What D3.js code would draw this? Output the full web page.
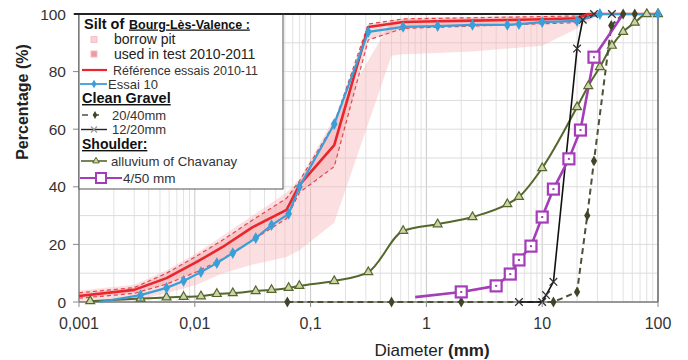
<!DOCTYPE html>
<html><head><meta charset="utf-8">
<script src="https://cdn.jsdelivr.net/npm/d3@7"></script>
<style>body{margin:0;background:#fff} svg{display:block;font-family:"Liberation Sans",Arial,sans-serif}</style>
</head><body><svg id="c" width="688" height="360"></svg>
<script>
// ---- data ----
const xTicks = [0.001, 0.01, 0.1, 1, 10, 100];
const xTickLabels = ["0,001", "0,01", "0,1", "1", "10", "100"];
const yTicks = [0, 20, 40, 60, 80, 100];

// Silt of Bourg-Lès-Valence : borrow pit envelope
const pitD  = [0.001, 0.003, 0.0057, 0.0104, 0.0174, 0.0316, 0.062, 0.08, 0.16, 0.5, 0.63, 1.25, 2.5, 5, 10, 20, 31.5];
const pitHi = [4, 6, 11, 17, 23, 30, 38, 42.5, 64, 97.5, 98.5, 99, 99, 99.3, 99.5, 99.7, 100];
const pitLo = [0, 0.5, 3, 6, 10, 13, 15.6, 18, 27.5, 85.5, 86, 86.5, 87, 88, 89, 95, 100];
// used in test 2010-2011 envelope
const usedD  = [0.001, 0.003, 0.0057, 0.0104, 0.0174, 0.0316, 0.062, 0.08, 0.16, 0.315, 0.63, 20, 31.5];
const usedHi = [3.2, 5, 10, 16, 21.5, 28.5, 36, 42, 62, 96.5, 98.3, 99.3, 100];
const usedLo = [1.3, 3, 6.2, 10.5, 15, 21.5, 29, 38, 47, 91, 95, 97, 100];
// Référence essais 2010-11
const refD = [0.001, 0.003, 0.0057, 0.0104, 0.0174, 0.0316, 0.062, 0.08, 0.16, 0.315, 0.63, 1.25, 2.5, 5, 10, 20, 25, 100];
const refP = [2.1, 4.2, 8.3, 13.9, 19.1, 26, 32, 40.6, 54.5, 95.5, 97.2, 97.5, 97.7, 97.9, 98.2, 98.5, 100, 100];
// Essai 10
const essD = [0.0015, 0.0034, 0.0057, 0.008, 0.0113, 0.0155, 0.0213, 0.0336, 0.046, 0.0646, 0.08, 0.16, 0.315, 0.63, 1.25, 2.5, 5, 6.3, 10, 20, 31.5, 100];
const essP = [0, 2.4, 4.9, 7.3, 10.4, 13.5, 17, 22.2, 26.7, 30.6, 40, 61.8, 93.8, 95.5, 95.8, 96.2, 96.2, 96.5, 97.2, 97.6, 100, 100];
// Clean Gravel 20/40mm
const g2040D = [0.063, 0.5, 2, 12.5, 20, 24.5, 28, 39.5, 50, 63];
const g2040P = [0, 0, 0, 0, 3.5, 30, 49, 96, 100, 100];
// Clean Gravel 12/20mm
const g1220D = [6.3, 10, 10.8, 12.5, 20, 22.4, 28, 40];
const g1220P = [0, 0, 2.4, 7, 88, 98, 100, 100];
// Shoulder: alluvium of Chavanay
const allD = [0.00125, 0.0034, 0.0057, 0.008, 0.0113, 0.0155, 0.0213, 0.0336, 0.046, 0.0646, 0.08, 0.16, 0.315, 0.63, 1.25, 2.5, 5, 6.3, 10, 20, 25, 31.5, 40, 50, 63, 80, 100];
const allP = [0.3, 1.2, 1.6, 1.8, 2, 2.8, 3.1, 3.8, 4.2, 4.9, 5.6, 7.3, 10.4, 24.7, 27, 29.5, 34, 36.5, 46.5, 67.7, 75, 81.6, 89, 93.8, 97, 100, 100];
// Shoulder: 4/50 mm
const p450D = [0.8, 2, 4, 5.3, 6.3, 8, 10, 12.5, 17, 21.4, 28, 50];
const p450P = [1.7, 3.5, 5.6, 9.7, 14.6, 19.4, 29.5, 39.2, 49.7, 59.7, 85, 100];

// ---- drawing ----
const svg = d3.select("#c");
const x = d3.scaleLog().domain([0.001, 100]).range([79, 658]);
const y = d3.scaleLinear().domain([0, 100]).range([302, 14]);
const zip = (a, b) => a.map((v, i) => [v, b[i]]);
const zip3 = (a, b, c) => a.map((v, i) => [v, b[i], c[i]]);

const C = {red: "#e8262b", blue: "#3a9fd8", green: "#55672c", purple: "#a53db8", dark: "#3e4628"};

// grid
const gridX = [];
for (let e = -3; e < 2; e++) for (let k = 1; k < 10; k++) gridX.push(k * Math.pow(10, e));
gridX.push(100);
svg.append("g").selectAll("line").data(gridX).join("line")
  .attr("x1", d => x(d)).attr("x2", d => x(d)).attr("y1", y(0)).attr("y2", y(100))
  .attr("stroke", d => xTicks.includes(+d.toPrecision(6)) ? "#c8c8c8" : "#e2e2e2").attr("stroke-width", 1);
svg.append("g").selectAll("line").data(d3.range(0, 101, 10)).join("line")
  .attr("x1", x(0.001)).attr("x2", x(100)).attr("y1", d => y(d)).attr("y2", d => y(d))
  .attr("stroke", "#dcdcdc").attr("stroke-width", 1);

// envelopes
const area = d3.area().x(d => x(d[0])).y0(d => y(d[1])).y1(d => y(d[2]));
svg.append("path").datum(zip3(pitD, pitLo, pitHi)).attr("d", area)
  .attr("fill", "#f7b5b8").attr("fill-opacity", 0.42);
svg.append("path").datum(zip3(usedD, usedLo, usedHi)).attr("d", area)
  .attr("fill", "#f08d96").attr("fill-opacity", 0.32);
const line = d3.line().x(d => x(d[0])).y(d => y(d[1]));
[usedHi, usedLo].forEach(arr => {
  svg.append("path").datum(zip(usedD, arr)).attr("d", line).attr("fill", "none")
    .attr("stroke", "#e0474f").attr("stroke-width", 1.2).attr("stroke-dasharray", "4,3");
});

// axes frame
svg.append("line").attr("x1", x(0.001)).attr("x2", x(100)).attr("y1", y(0)).attr("y2", y(0)).attr("stroke", "#7a7a7a").attr("stroke-width", 1.5);
svg.append("line").attr("x1", x(0.001)).attr("x2", x(0.001)).attr("y1", y(0)).attr("y2", y(100)).attr("stroke", "#7a7a7a").attr("stroke-width", 1.2);
svg.append("line").attr("x1", x(100)).attr("x2", x(100)).attr("y1", y(0)).attr("y2", y(100)).attr("stroke", "#6a6a6a").attr("stroke-width", 1.5);
svg.append("line").attr("x1", 74).attr("x2", x(100)).attr("y1", y(100)).attr("y2", y(100)).attr("stroke", "#222").attr("stroke-width", 2);

// curves
function curve(D, P, color, width, dash, curveType) {
  const l = d3.line().x(d => x(d[0])).y(d => y(d[1])).curve(curveType || d3.curveLinear);
  svg.append("path").datum(zip(D, P)).attr("d", l).attr("fill", "none")
    .attr("stroke", color).attr("stroke-width", width).attr("stroke-dasharray", dash || null)
    .attr("stroke-linejoin", "round");
}
curve(allD, allP, C.green, 2, null, d3.curveMonotoneX);
curve(g2040D, g2040P, "#4a5238", 2, "6,4");
curve(g1220D, g1220P, "#111", 1.6);
curve(p450D, p450P, C.purple, 2.6);
curve(refD, refP, C.red, 2.6);
curve(essD, essP, C.blue, 2.2);

// markers
const sym = (type, size) => d3.symbol().type(type).size(size)();
svg.append("g").selectAll("path").data(zip(allD, allP)).join("path")
  .attr("transform", d => `translate(${x(d[0])},${y(d[1])})`).attr("d", sym(d3.symbolTriangle, 34))
  .attr("fill", "#cdd5a8").attr("stroke", C.green).attr("stroke-width", 1.2);
svg.append("g").selectAll("path").data(zip(g2040D, g2040P)).join("path")
  .attr("transform", d => `translate(${x(d[0])},${y(d[1])})`).attr("d", sym(d3.symbolDiamond, 34))
  .attr("fill", C.dark);
const xMark = "M-3.8,-3.8L3.8,3.8M-3.8,3.8L3.8,-3.8";
svg.append("g").selectAll("path").data(zip(g1220D, g1220P)).join("path")
  .attr("transform", d => `translate(${x(d[0])},${y(d[1])})`).attr("d", xMark)
  .attr("fill", "none").attr("stroke", "#333").attr("stroke-width", 1.3);
const pMarks = zip(p450D, p450P).filter((d, i) => i > 0 && i < p450D.length - 1);
const pg = svg.append("g").selectAll("g").data(pMarks).join("g")
  .attr("transform", d => `translate(${x(d[0])},${y(d[1])})`);
pg.append("rect").attr("x", -5.5).attr("y", -5.5).attr("width", 11).attr("height", 11)
  .attr("fill", "#fff").attr("stroke", C.purple).attr("stroke-width", 2.2);
pg.append("rect").attr("x", -1).attr("y", -1).attr("width", 2).attr("height", 2).attr("fill", C.purple);
svg.append("g").selectAll("path").data(zip(essD, essP).filter((d, i) => i > 0)).join("path")
  .attr("transform", d => `translate(${x(d[0])},${y(d[1])})`).attr("d", sym(d3.symbolDiamond, 40))
  .attr("fill", C.blue);

// ticks
svg.append("g").selectAll("line").data(yTicks).join("line")
  .attr("x1", 73).attr("x2", x(0.001)).attr("y1", d => y(d)).attr("y2", d => y(d)).attr("stroke", "#888");
svg.append("g").selectAll("text").data(yTicks).join("text")
  .attr("x", 66).attr("y", d => y(d) + 5.5).attr("text-anchor", "end")
  .attr("font-size", 15.5).attr("fill", "#333").text(d => d);
svg.append("g").selectAll("line").data(xTicks).join("line")
  .attr("x1", d => x(d)).attr("x2", d => x(d)).attr("y1", y(0)).attr("y2", y(0) + 5).attr("stroke", "#888");
svg.append("g").selectAll("text").data(xTicks).join("text")
  .attr("x", d => x(d)).attr("y", 329).attr("text-anchor", "middle")
  .attr("font-size", 16).attr("fill", "#333").text((d, i) => xTickLabels[i]);

// axis titles
svg.append("text").attr("transform", "translate(28,102) rotate(-90)").attr("text-anchor", "middle")
  .attr("font-size", 16).attr("font-weight", "bold").attr("fill", "#222").text("Percentage (%)");
const xt = svg.append("text").attr("x", 432).attr("y", 356).attr("text-anchor", "middle")
  .attr("font-size", 17).attr("fill", "#222");
xt.append("tspan").text("Diameter ");
xt.append("tspan").attr("font-weight", "bold").text("(mm)");

// legend
const lg = svg.append("g");
lg.append("rect").attr("x", 79).attr("y", 14).attr("width", 204).attr("height", 175)
  .attr("fill", "#fff").attr("stroke", "#555").attr("stroke-width", 1);
lg.append("line").attr("x1", 74).attr("x2", 283).attr("y1", 14).attr("y2", 14).attr("stroke", "#222").attr("stroke-width", 2);
lg.append("text").attr("x", 84).attr("y", 28.5).attr("font-weight", "bold").attr("fill", "#111")
  .attr("font-size", 14.5).text("Silt of");
lg.append("text").attr("x", 129).attr("y", 28.5).attr("font-weight", "bold").attr("fill", "#111")
  .attr("font-size", 12.5).attr("text-decoration", "underline").text("Bourg-Lès-Valence :");
lg.append("rect").attr("x", 91).attr("y", 36.5).attr("width", 6).attr("height", 6).attr("fill", "#f8d3d6").attr("stroke", "#f3c0c5");
lg.append("text").attr("x", 114).attr("y", 44).attr("font-size", 14).attr("fill", "#222").text("borrow pit");
lg.append("rect").attr("x", 91).attr("y", 51).attr("width", 6).attr("height", 6).attr("fill", "#ee9aa3").attr("stroke", "#f3b8bf");
lg.append("text").attr("x", 114).attr("y", 58.5).attr("font-size", 14).attr("fill", "#222").text("used in test 2010-2011");
lg.append("line").attr("x1", 82).attr("x2", 107).attr("y1", 70).attr("y2", 70).attr("stroke", C.red).attr("stroke-width", 2.2);
lg.append("text").attr("x", 113).attr("y", 75).attr("font-size", 12.5).attr("fill", "#333").text("Référence essais 2010-11");
lg.append("line").attr("x1", 80).attr("x2", 107).attr("y1", 84).attr("y2", 84).attr("stroke", C.blue).attr("stroke-width", 1.8);
lg.append("path").attr("transform", "translate(94,84)").attr("d", sym(d3.symbolDiamond, 22)).attr("fill", C.blue);
lg.append("text").attr("x", 108).attr("y", 88.5).attr("font-size", 13).attr("fill", "#333").text("Essai 10");
lg.append("text").attr("x", 82).attr("y", 103).attr("font-size", 14.5).attr("font-weight", "bold")
  .attr("text-decoration", "underline").attr("fill", "#111").text("Clean Gravel");
lg.append("line").attr("x1", 82).attr("x2", 102).attr("y1", 115).attr("y2", 115).attr("stroke", "#4a5238").attr("stroke-width", 1.6).attr("stroke-dasharray", "6,5");
lg.append("path").attr("transform", "translate(95,115)").attr("d", sym(d3.symbolDiamond, 18)).attr("fill", C.dark);
lg.append("text").attr("x", 112).attr("y", 120).attr("font-size", 13).attr("fill", "#333").text("20/40mm");
lg.append("line").attr("x1", 81).attr("x2", 107).attr("y1", 129.5).attr("y2", 129.5).attr("stroke", "#222").attr("stroke-width", 1.4);
lg.append("path").attr("transform", "translate(94,129.5)").attr("d", "M-3,-3L3,3M-3,3L3,-3").attr("stroke", "#999").attr("stroke-width", 1.2);
lg.append("text").attr("x", 112).attr("y", 134).attr("font-size", 13).attr("fill", "#333").text("12/20mm");
lg.append("text").attr("x", 82).attr("y", 149).attr("font-size", 14).attr("font-weight", "bold")
  .attr("text-decoration", "underline").attr("fill", "#111").text("Shoulder:");
lg.append("line").attr("x1", 81).attr("x2", 107).attr("y1", 161).attr("y2", 161).attr("stroke", C.green).attr("stroke-width", 1.6);
lg.append("path").attr("transform", "translate(96,161)").attr("d", sym(d3.symbolTriangle, 18)).attr("fill", "#cdd5a8").attr("stroke", C.green);
lg.append("text").attr("x", 111).attr("y", 165.5).attr("font-size", 13.2).attr("fill", "#333").text("alluvium of Chavanay");
lg.append("line").attr("x1", 80).attr("x2", 122).attr("y1", 178).attr("y2", 178).attr("stroke", C.purple).attr("stroke-width", 2.2);
lg.append("rect").attr("x", 96).attr("y", 173).attr("width", 10).attr("height", 10).attr("fill", "#fff").attr("stroke", C.purple).attr("stroke-width", 2);
lg.append("text").attr("x", 123).attr("y", 183).attr("font-size", 13.5).attr("fill", "#333").text("4/50 mm");
</script></body></html>
